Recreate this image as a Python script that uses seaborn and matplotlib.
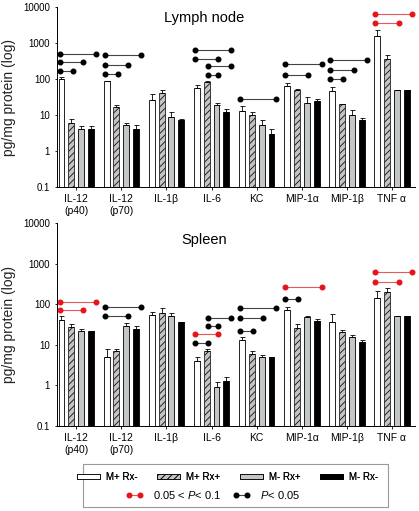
import numpy as np
import pandas as pd
import matplotlib
matplotlib.use("Agg")
import matplotlib.pyplot as plt
from matplotlib.patches import Patch, Rectangle
from matplotlib.lines import Line2D
from matplotlib.ticker import FixedLocator, FuncFormatter
import seaborn as sb

cytokines = ["IL-12\n(p40)", "IL-12\n(p70)", "IL-1β", "IL-6", "KC", "MIP-1α", "MIP-1β", "TNF α"]
groups = ["M+ Rx-", "M+ Rx+", "M- Rx+", "M- Rx-"]

# lymph node, one list per group (mean, then upper error size)
lymph_mean = [[100, 86, 27, 58, 13, 63, 46, 1550],
              [6, 17, 40, 84, 10, 50, 20, 360],
              [4, 5.3, 9, 18.7, 5.2, 22, 10, 50],
              [4, 4, 7.2, 12, 3, 24.5, 7.2, 50]]
lymph_err = [[12, 4, 12, 10, 4.6, 16, 15, 750],
             [2, 2.2, 9, 7, 1.8, 2, 0.3, 115],
             [1.1, 0.9, 3, 3.6, 2.1, 10, 4, 0],
             [1.1, 1.3, 0.7, 2.8, 1.2, 3, 0.9, 0]]

spleen_mean = [[40, 5, 54, 4, 13.2, 70, 35.5, 140],
               [27, 7.1, 60, 7.1, 5.9, 25.7, 21, 205],
               [22, 29, 50, 0.92, 5.1, 48, 15.4, 50],
               [22, 25, 35.5, 1.3, 5.0, 39, 12, 50]]
spleen_err = [[10, 3, 12, 1, 2.3, 14, 22, 73],
              [6, 1, 20, 1, 1.1, 6, 2.4, 42],
              [2.5, 5, 11, 0.3, 0.4, 3.5, 1.9, 0],
              [0, 4, 0, 0.35, 0, 4, 1.2, 0]]

# significance brackets: cytokine index, from group, to group, height, kind (r: 0.05<P<0.1, k: P<0.05)
lymph_sig_cyt = [0, 0, 0, 1, 1, 1, 3, 3, 3, 3, 4, 5, 5, 6, 6, 6, 7, 7]
lymph_sig_from = [0, 0, 0, 0, 0, 0, 0, 0, 1, 1, 0, 0, 0, 0, 0, 0, 0, 0]
lymph_sig_to = [3, 2, 1, 3, 2, 1, 3, 2, 3, 2, 3, 3, 2, 3, 2, 1, 3, 2]
lymph_sig_y = [500, 290, 163, 465, 245, 137, 640, 360, 225, 129, 27.5, 262, 132, 336, 181, 100, 6480, 3550]
lymph_sig_kind = "kkkkkkkkkkkkkkkkrr"

spleen_sig_cyt = [0, 0, 1, 1, 3, 3, 3, 3, 4, 4, 4, 5, 5, 7, 7]
spleen_sig_from = [0, 0, 0, 0, 1, 1, 0, 0, 0, 0, 0, 0, 0, 0, 0]
spleen_sig_to = [3, 2, 3, 2, 3, 2, 2, 1, 3, 2, 1, 3, 1, 3, 2]
spleen_sig_y = [116, 72.5, 84, 50, 44.5, 29, 18.6, 11.4, 81, 44.5, 22, 262, 132, 635, 347]
spleen_sig_kind = "rrkkkkrkkkkrkrr"

fills = ["white", "#c4c4c4", "#c3c7c3", "black"]
dot_off = [-0.37, -0.08, 0.15, 0.44]
bar_off = [-0.33, -0.11, 0.11, 0.33]

plt.rcParams["hatch.linewidth"] = 0.7
plt.rcParams["font.family"] = ["Liberation Sans", "DejaVu Sans"]
plt.rcParams["mathtext.fontset"] = "custom"
plt.rcParams["mathtext.it"] = "Liberation Sans:italic"
plt.rcParams["mathtext.rm"] = "Liberation Sans"


def draw_panel(ax, means, errs, sig_cyt, sig_from, sig_to, sig_y, sig_kind, title, tx, ty):
    rows = []
    for g, vals in zip(groups, means):
        for c, v in zip(cytokines, vals):
            rows.append({"cytokine": c, "group": g, "value": v})
    df = pd.DataFrame(rows)
    sb.barplot(data=df, x="cytokine", y="value", hue="group", order=cytokines,
               hue_order=groups, palette=fills, width=0.88, gap=0.4,
               errorbar=None, edgecolor="black", linewidth=0.6, ax=ax, legend=False)
    for p in ax.containers[1]:
        p.set_hatch("/////")
        p.set_edgecolor("#222222")
    ax.set_yscale("log")
    ax.set_ylim(0.1, 10000)
    ax.set_xlim(-0.43, 7.51)
    x = np.arange(len(cytokines))
    for j in range(4):
        ax.errorbar(x + bar_off[j], means[j], yerr=[np.zeros(8), errs[j]], fmt="none",
                    ecolor="black", elinewidth=0.6, capsize=1.8, capthick=0.6)
    for c, a, b, y, k in zip(sig_cyt, sig_from, sig_to, sig_y, sig_kind):
        xs = [c + dot_off[a], c + dot_off[b]]
        if k == "r":
            ax.plot(xs, [y, y], color="#e85a5a", lw=0.8, clip_on=False)
            ax.plot(xs, [y, y], "o", color="#e8141c", ms=3.3, clip_on=False)
        else:
            ax.plot(xs, [y, y], color="#444444", lw=0.8, clip_on=False)
            ax.plot(xs, [y, y], "o", color="black", ms=3.3, clip_on=False)
    ax.yaxis.set_major_locator(FixedLocator([0.1, 1, 10, 100, 1000, 10000]))
    ax.yaxis.set_minor_locator(FixedLocator([]))
    ax.yaxis.set_major_formatter(FuncFormatter(lambda v, p: "%g" % v))
    ax.set_xlabel("")
    ax.set_ylabel("pg/mg protein (log)", fontsize=10, color="#222222", labelpad=5)
    ax.tick_params(axis="y", length=1.5, labelsize=7, width=0.6)
    ax.tick_params(axis="x", length=2, labelsize=7.5, width=0.6, pad=3)
    for s in ["top", "right"]:
        ax.spines[s].set_visible(False)
    for s in ["left", "bottom"]:
        ax.spines[s].set_linewidth(0.7)
    ax.text(tx, ty, title, transform=ax.transAxes, ha="center", va="center", fontsize=10.5)


fig = plt.figure(figsize=(4.19, 5.11), dpi=100)
ax1 = fig.add_axes([0.136, 0.634, 0.854, 0.352])
ax2 = fig.add_axes([0.136, 0.1663, 0.854, 0.3973])

draw_panel(ax1, lymph_mean, lymph_err, lymph_sig_cyt, lymph_sig_from, lymph_sig_to,
           lymph_sig_y, lymph_sig_kind, "Lymph node", 0.41, 0.94)
draw_panel(ax2, spleen_mean, spleen_err, spleen_sig_cyt, spleen_sig_from, spleen_sig_to,
           spleen_sig_y, spleen_sig_kind, "Spleen", 0.41, 0.915)

# legend
fig.patches.append(Rectangle((0.198, 0.008), 0.728, 0.084, transform=fig.transFigure,
                             fill=False, edgecolor="#999999", lw=0.8))
bar_handles = [Patch(facecolor=fills[j], edgecolor="black", lw=0.6,
                     hatch="/////" if j == 1 else None) for j in range(4)]
leg1 = fig.legend(bar_handles, groups, loc="center", bbox_to_anchor=(0.543, 0.0665), ncol=4,
                  frameon=False, fontsize=7, handlelength=2.4, handleheight=0.45,
                  columnspacing=2.0, handletextpad=0.6)
line_handles = [Line2D([], [], color="#e85a5a", lw=0.8, marker="o", ms=3.3,
                       markerfacecolor="#e8141c", markeredgecolor="#e8141c"),
                Line2D([], [], color="#444444", lw=0.8, marker="o", ms=3.3,
                       markerfacecolor="black", markeredgecolor="black")]
fig.legend(line_handles, ["0.05 < $P$< 0.1", "$P$< 0.05"], loc="center",
           bbox_to_anchor=(0.508, 0.031), ncol=2, frameon=False, fontsize=8,
           handlelength=1.6, columnspacing=1.0, handletextpad=0.9, numpoints=2)
fig.add_artist(leg1)

fig.savefig("out.png", dpi=100)
